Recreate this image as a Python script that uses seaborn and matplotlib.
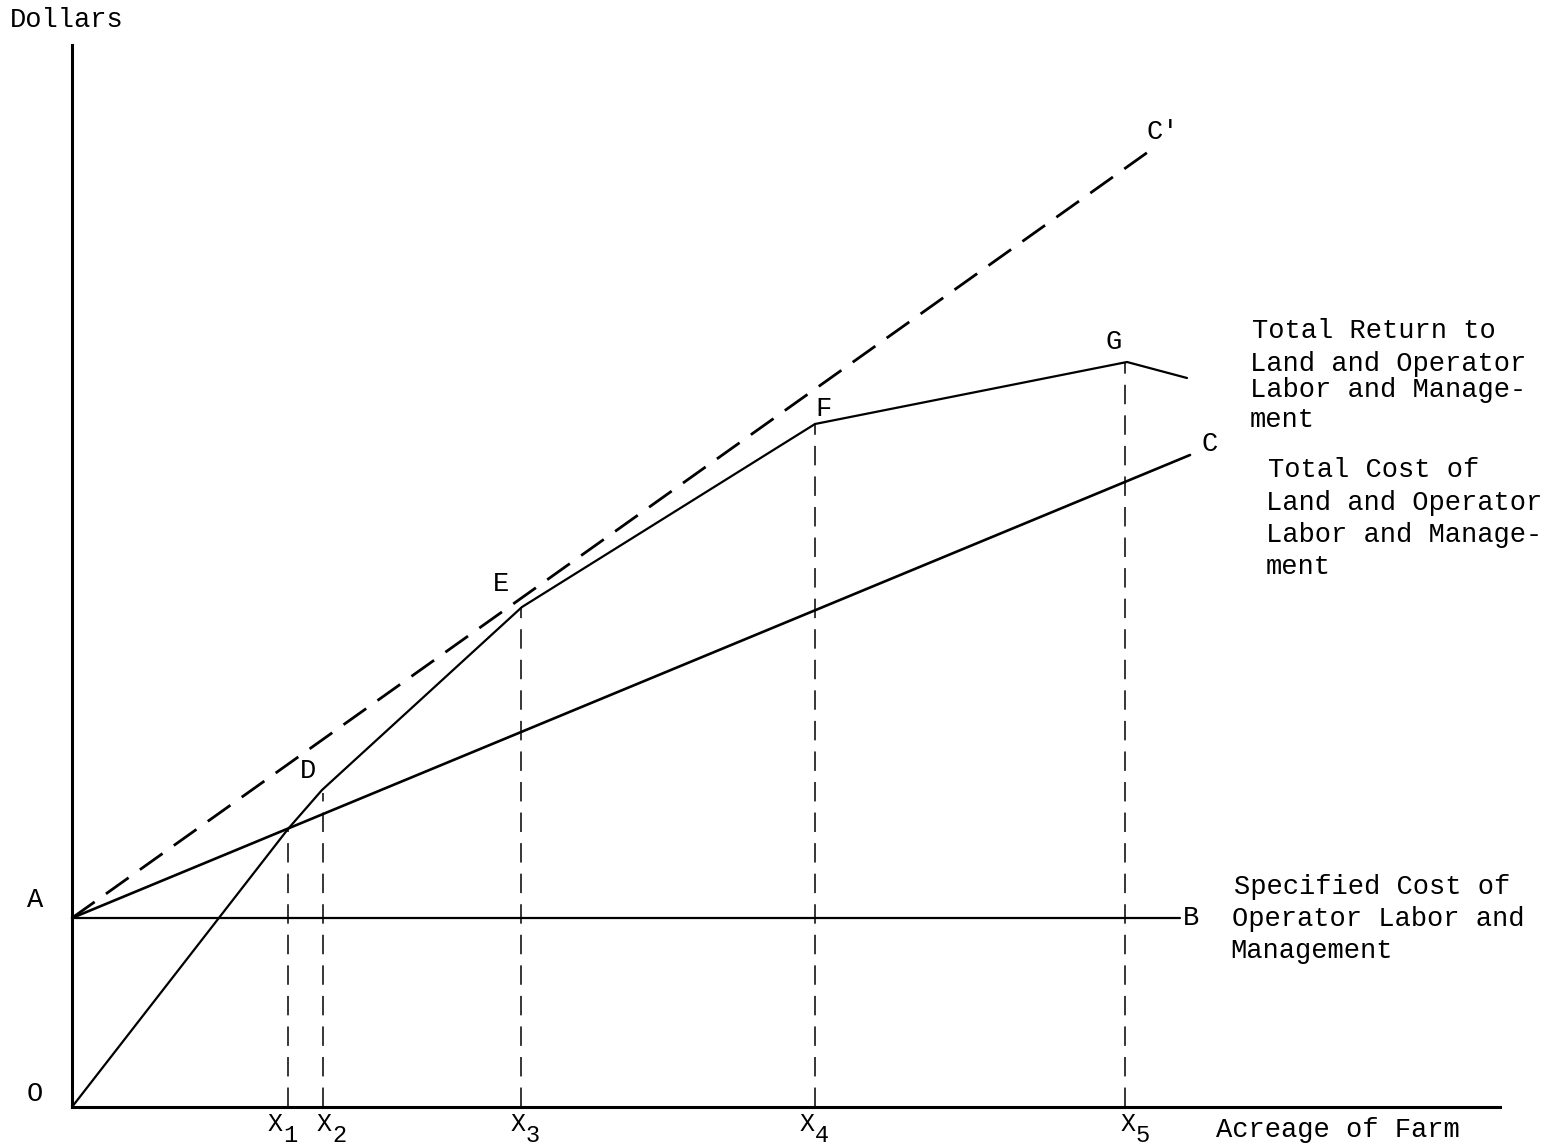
import matplotlib
matplotlib.use("Agg")
import matplotlib.pyplot as plt
import seaborn as sns
import pandas as pd

# ---- data (chart units: acreage on x, dollars on y) ----
specified_cost = 18.9                      # level of A-B line
ab_x = [0.0, 110.8]
ab_y = [specified_cost, specified_cost]

cost_x = [0.0, 111.8]                      # A -> C  total cost
cost_y = [18.9, 65.2]

cprime_x = [0.0, 107.6]                    # A -> C' dashed
cprime_y = [18.9, 95.5]

return_x = [0.0, 21.6, 25.0, 45.0, 74.3, 105.5, 111.5]   # O, X1, D, E, F, G, end
return_y = [0.0, 27.8, 31.7, 50.0, 68.3, 74.5, 72.9]

drop_x = [21.6, 25.1, 44.9, 74.3, 105.3]   # X1..X5
drop_top = [27.8, 31.4, 50.0, 68.3, 74.5]
x_sub_labels = ["1", "2", "3", "4", "5"]
x_label_px = [275, 324, 518, 807, 1128]    # label placement (pixels)

W, H = 1553, 1147
sns.set_style("white")
plt.rcParams["font.family"] = ["Liberation Mono", "DejaVu Sans Mono"]
plt.rcParams["lines.scale_dashes"] = False

fig = plt.figure(figsize=(W / 100, H / 100), dpi=100)
ax = fig.add_axes([72 / W, 40 / H, 1428 / W, 1062 / H])
ax.set_xlim(0, 142.8)
ax.set_ylim(0, 106.2)

def draw(xs, ys, lw, dashes=None):
    df = pd.DataFrame({"x": xs, "y": ys})
    sns.lineplot(data=df, x="x", y="y", sort=False, color="black",
                 linewidth=lw, ax=ax, estimator=None)
    if dashes is not None:
        ax.lines[-1].set_dashes(dashes)
    ax.lines[-1].set_clip_on(False)

draw(ab_x, ab_y, 1.6)
draw(cost_x, cost_y, 1.9)
draw(return_x, return_y, 1.6)
draw(cprime_x, cprime_y, 2.0, dashes=(20, 10))

ax.vlines(drop_x, 0, drop_top, colors="black", linewidth=1.1,
          linestyles=(0, (14, 8)))

for s in ["top", "right"]:
    ax.spines[s].set_visible(False)
for s in ["left", "bottom"]:
    ax.spines[s].set_linewidth(2.2)
    ax.spines[s].set_color("black")
ax.set_xticks([])
ax.set_yticks([])
ax.set_xlabel("")
ax.set_ylabel("")

FS = 19.5

def ftext(px, py, s, ha="left", va="center", size=FS):
    fig.text(px / W, 1 - py / H, s, ha=ha, va=va, fontsize=size, color="black")

ftext(10, 20, "Dollars")
ftext(35, 900, "A", ha="center")
ftext(35, 1094, "O", ha="center")
ftext(1183, 918, "B")
ftext(1210, 444, "C", ha="center")
ftext(1163, 132, "C'", ha="center")
ftext(308, 771, "D", ha="center")
ftext(501, 584, "E", ha="center")
ftext(823, 409, "F", ha="center")
ftext(1114, 342, "G", ha="center")

for px, sub in zip(x_label_px, x_sub_labels):
    ftext(px, 1124, "X", ha="center", size=18)
    ftext(px + 15, 1136, sub, ha="center", size=17)

ftext(1216, 1130, "Acreage of Farm")

ftext(1252, 331, "Total Return to")
ftext(1250, 364, "Land and Operator")
ftext(1250, 390, "Labor and Manage-")
ftext(1250, 420, "ment")

ftext(1268, 470, "Total Cost of")
ftext(1266, 503, "Land and Operator")
ftext(1266, 535, "Labor and Manage-")
ftext(1266, 567, "ment")

ftext(1234, 887, "Specified Cost of")
ftext(1232, 919, "Operator Labor and")
ftext(1230, 951, "Management")

fig.savefig("out.png", dpi=100, facecolor="white")
